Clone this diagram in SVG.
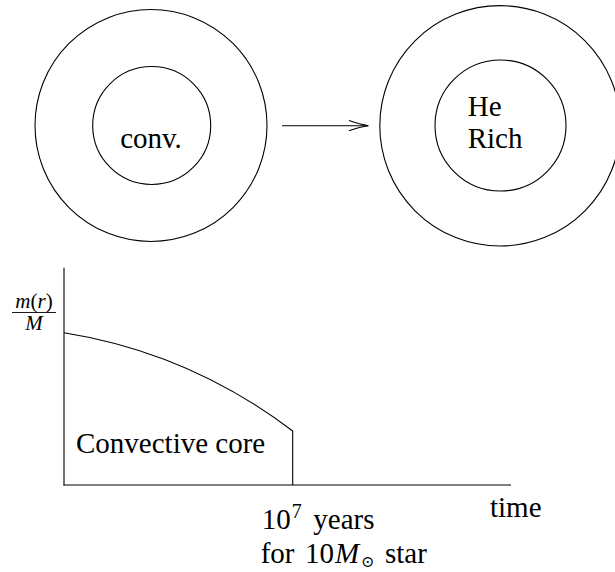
<svg xmlns="http://www.w3.org/2000/svg" width="615" height="572" viewBox="0 0 615 572">
<style>
  .ln { fill: none; stroke: #000; stroke-width: 1.1; }
  .t { font-family: 'Liberation Serif', 'Times New Roman', serif; font-size: 29px; fill: #000; }
  .m { font-style: italic; }
  .sym { font-family: 'DejaVu Serif', serif; font-size: 16px; }
</style>
<rect width="615" height="572" fill="#fff"/>
<g id="star-before">
  <circle class="ln" cx="151" cy="125.5" r="116"/>
  <circle class="ln" cx="151.7" cy="125.5" r="59"/>
  <text class="t" x="151" y="148.3" text-anchor="middle">conv.</text>
</g>
<g id="star-after">
  <circle class="ln" cx="500" cy="125.8" r="120.2"/>
  <circle class="ln" cx="500.5" cy="125.5" r="65.5"/>
  <text class="t" x="467.7" y="116">He</text>
  <text class="t" x="467.7" y="148.3">Rich</text>
</g>
<g id="connectors">
  <line class="ln" x1="282" y1="125.7" x2="368" y2="125.7"/>
  <path class="ln" d="M349,120.6 Q360,124.6 368.5,125.7 Q360,126.8 349,130.8"/>
</g>
<g id="graph">
  <line class="ln" x1="64" y1="267.7" x2="64" y2="485.5"/>
  <line class="ln" x1="63.5" y1="485" x2="511" y2="485"/>
  <path class="ln" d="M64,332.7 Q189.85,352.8 292.7,431 L292.7,485"/>
  <text class="t" x="34" y="307.5" text-anchor="middle" style="font-size:21px"><tspan class="m">m</tspan>(<tspan class="m">r</tspan>)</text>
  <line class="ln" x1="12" y1="312.5" x2="56" y2="312.5" style="stroke-width:0.9"/>
  <text class="t m" x="34" y="330" text-anchor="middle" style="font-size:21px">M</text>
  <text class="t" x="76" y="452.7">Convective core</text>
  <text class="t" x="490" y="517.3">time</text>
  <text class="t" x="261.7" y="529.3">10<tspan x="291.7" y="518.3" style="font-size:20px">7</tspan><tspan x="313.3" y="529.3">years</tspan></text>
  <text class="t" x="260.7" y="562.7">for<tspan x="305">10</tspan><tspan class="m" x="335">M</tspan><tspan class="sym" x="361" y="567">⊙</tspan><tspan x="385" y="562.7">star</tspan></text>
</g>
</svg>
